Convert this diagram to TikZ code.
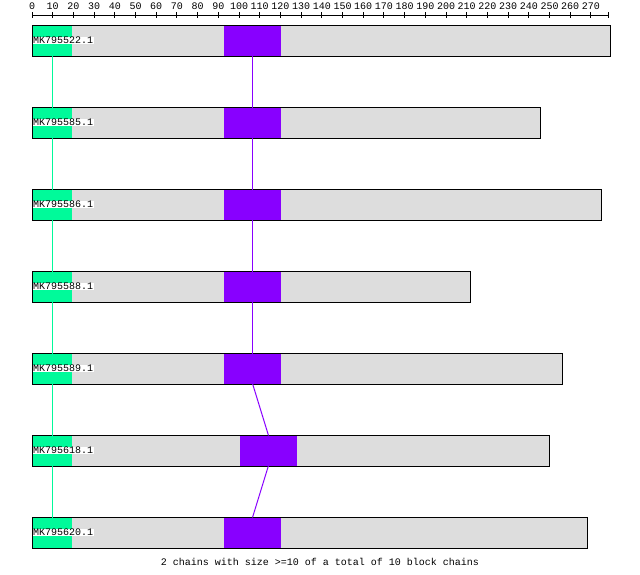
\documentclass[tikz,border=0pt]{standalone}
\usepackage{fontspec}
\setmonofont{Liberation Mono}
\definecolor{chaingreen}{RGB}{0,250,154}
\definecolor{chainpurple}{RGB}{136,0,255}
\definecolor{seqgray}{RGB}{221,221,221}
\tikzset{
  seqbar/.style={draw=black, fill=seqgray, line width=1pt, inner sep=0pt, outer sep=0pt, minimum height=31pt, anchor=north west},
  gblock/.style={fill=chaingreen, inner sep=0pt, outer sep=0pt, minimum height=30pt, minimum width=39pt, anchor=north west},
  pblock/.style={fill=chainpurple, inner sep=0pt, outer sep=0pt, minimum height=30pt, minimum width=57pt, anchor=north west},
  seqname/.style={fill=white, inner sep=0.5pt, anchor=west, font=\ttfamily\fontsize{10}{10}\selectfont},
  ticklab/.style={anchor=south, inner sep=0pt, font=\ttfamily\fontsize{10}{10}\selectfont},
}
\begin{document}
\begin{tikzpicture}[x=1pt, y=-1pt]
    \useasboundingbox (0,0) rectangle (640,574);

    % ruler
    \draw[line width=1pt] (32,15) -- (608,15);
    \foreach \k in {0,10,...,270} {
        \draw[line width=1pt] ({32+2.07*\k},12) -- ({32+2.07*\k},18);
        \node[ticklab] at ({32+2.07*\k},10) {\k};
    }
    \draw[line width=1pt] (608,12) -- (608,18);

    % bars
    \node[seqbar, minimum width=578pt] (bar1) at (32,25) {};
    \node[seqbar, minimum width=508pt] (bar2) at (32,107) {};
    \node[seqbar, minimum width=569pt] (bar3) at (32,189) {};
    \node[seqbar, minimum width=438pt] (bar4) at (32,271) {};
    \node[seqbar, minimum width=530pt] (bar5) at (32,353) {};
    \node[seqbar, minimum width=517pt] (bar6) at (32,435) {};
    \node[seqbar, minimum width=555pt] (bar7) at (32,517) {};

    % blocks
    \node[gblock] (g1) at (32.5,25.5) {};
    \node[gblock] (g2) at (32.5,107.5) {};
    \node[gblock] (g3) at (32.5,189.5) {};
    \node[gblock] (g4) at (32.5,271.5) {};
    \node[gblock] (g5) at (32.5,353.5) {};
    \node[gblock] (g6) at (32.5,435.5) {};
    \node[gblock] (g7) at (32.5,517.5) {};
    \node[pblock] (p1) at (224,25.5) {};
    \node[pblock] (p2) at (224,107.5) {};
    \node[pblock] (p3) at (224,189.5) {};
    \node[pblock] (p4) at (224,271.5) {};
    \node[pblock] (p5) at (224,353.5) {};
    \node[pblock] (p6) at (240,435.5) {};
    \node[pblock] (p7) at (224,517.5) {};

    % outlines again on top
    \foreach \b in {bar1,bar2,bar3,bar4,bar5,bar6,bar7}
        \draw[line width=1pt] (\b.north west) rectangle (\b.south east);

    % names
    \node[seqname] (n1) at (32.5,40.5) {MK795522.1};
    \node[seqname] (n2) at (32.5,122.5) {MK795585.1};
    \node[seqname] (n3) at (32.5,204.5) {MK795586.1};
    \node[seqname] (n4) at (32.5,286.5) {MK795588.1};
    \node[seqname] (n5) at (32.5,368.5) {MK795589.1};
    \node[seqname] (n6) at (32.5,450.5) {MK795618.1};
    \node[seqname] (n7) at (32.5,532.5) {MK795620.1};

    % chains
    \draw[chaingreen, line width=1pt] (g1.south) -- (g2.north);
    \draw[chaingreen, line width=1pt] (g2.south) -- (g3.north);
    \draw[chaingreen, line width=1pt] (g3.south) -- (g4.north);
    \draw[chaingreen, line width=1pt] (g4.south) -- (g5.north);
    \draw[chaingreen, line width=1pt] (g5.south) -- (g6.north);
    \draw[chaingreen, line width=1pt] (g6.south) -- (g7.north);
    \draw[chainpurple, line width=1pt] (p1.south) -- (p2.north);
    \draw[chainpurple, line width=1pt] (p2.south) -- (p3.north);
    \draw[chainpurple, line width=1pt] (p3.south) -- (p4.north);
    \draw[chainpurple, line width=1pt] (p4.south) -- (p5.north);
    \draw[chainpurple, line width=1pt] (p5.south) -- (p6.north);
    \draw[chainpurple, line width=1pt] (p6.south) -- (p7.north);

    \node[font=\ttfamily\fontsize{10}{10}\selectfont] (note) at (320,562) {2 chains with size >=10 of a total of 10 block chains};
\end{tikzpicture}
\end{document}
